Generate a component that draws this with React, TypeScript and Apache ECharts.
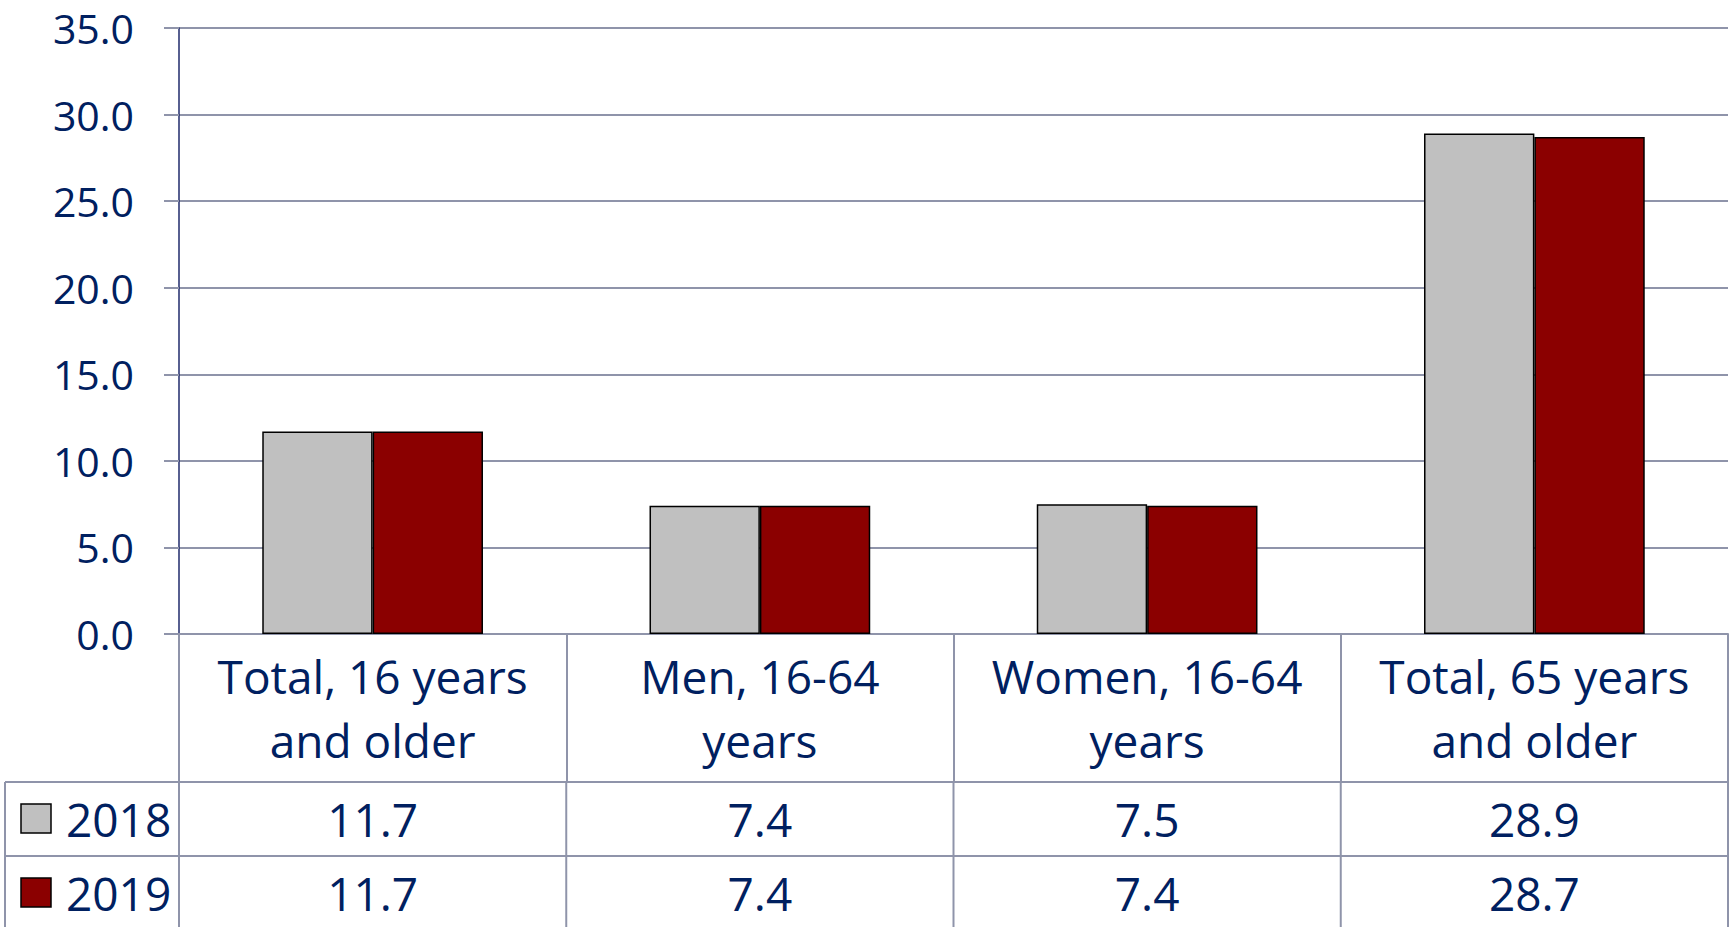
import React, { useEffect, useRef } from "react";
import * as echarts from "echarts";

const categories = [
  "Total, 16 years\nand older",
  "Men, 16-64\nyears",
  "Women, 16-64\nyears",
  "Total, 65 years\nand older",
];
const seriesNames = ["2018", "2019"];
const values2018 = [11.7, 7.4, 7.5, 28.9];
const values2019 = [11.7, 7.4, 7.4, 28.7];
const seriesColors = ["#C0C0C0", "#8B0000"];

const W = 1731;
const H = 927;
const FONT = "'Open Sans', 'Noto Sans', sans-serif";
const TEXT = "#002060";
const GRID = "#8f94aa";

export default function App() {
  const ref = useRef<HTMLDivElement>(null);
  useEffect(() => {
    if (!ref.current) return;
    const chart = echarts.init(ref.current, null, { renderer: "svg", width: W, height: H });
    const gridLeft = 179;
    const gridRight = 3;
    const gridTop = 28;
    const axisY = 634;
    const gridBottom = H - axisY;
    chart.setOption({
      animation: false,
      grid: { left: gridLeft, right: gridRight, top: gridTop, bottom: gridBottom, containLabel: false },
      xAxis: {
        type: "category",
        data: categories,
        axisLine: { show: true, lineStyle: { color: GRID, width: 2 } },
        axisTick: { show: true, alignWithLabel: false, length: 148, lineStyle: { color: GRID, width: 2 } },
        axisLabel: {
          interval: 0,
          margin: 10,
          color: TEXT,
          fontFamily: FONT,
          fontSize: 46,
          lineHeight: 64,
          align: "center",
          verticalAlign: "top",
        },
      },
      yAxis: {
        type: "value",
        min: 0,
        max: 35,
        interval: 5,
        axisLine: { show: true, lineStyle: { color: "#1f2a6b", width: 1.5 } },
        axisTick: { show: true, length: 15, lineStyle: { color: GRID, width: 2 } },
        splitLine: { show: true, lineStyle: { color: GRID, width: 2 } },
        axisLabel: {
          margin: 45,
          color: TEXT,
          fontFamily: FONT,
          fontSize: 41,
          lineHeight: 41,
          formatter: (v: number) => v.toFixed(1),
        },
      },
      series: [
        {
          name: seriesNames[0],
          type: "bar",
          data: values2018,
          barGap: "0%",
          barCategoryGap: "43%",
          itemStyle: { color: seriesColors[0], borderColor: "#000", borderWidth: 1.5 },
        },
        {
          name: seriesNames[1],
          type: "bar",
          data: values2019,
          barGap: "0%",
          barCategoryGap: "43%",
          itemStyle: { color: seriesColors[1], borderColor: "#000", borderWidth: 1.5 },
        },
      ],
    });

    // Data table beneath the axis
    const tableLeft = 5;
    const tableRight = W - gridRight;
    const row1Top = 782;
    const rowH = 74;
    const rows = [values2018, values2019];
    const colW = (tableRight - gridLeft) / categories.length;
    const lineStyle = { stroke: GRID, lineWidth: 2 };
    const elements: any[] = [];
    for (let r = 0; r <= rows.length; r++) {
      const y = row1Top + r * rowH;
      elements.push({ type: "line", shape: { x1: tableLeft, y1: y, x2: tableRight, y2: y }, style: lineStyle });
    }
    const bottom = row1Top + rows.length * rowH;
    elements.push({ type: "line", shape: { x1: tableLeft, y1: row1Top, x2: tableLeft, y2: bottom }, style: lineStyle });
    for (let c = 0; c <= categories.length; c++) {
      const x = gridLeft + c * colW;
      elements.push({ type: "line", shape: { x1: x, y1: row1Top, x2: x, y2: bottom }, style: lineStyle });
    }
    rows.forEach((vals, r) => {
      const cy = row1Top + r * rowH + rowH / 2;
      elements.push({
        type: "rect",
        shape: { x: 21, y: cy - 15, width: 30, height: 29 },
        style: { fill: seriesColors[r], stroke: "#000", lineWidth: 1.5 },
      });
      elements.push({
        type: "text",
        x: 66,
        y: cy,
        style: { text: seriesNames[r], fill: TEXT, font: `46px ${FONT}`, textAlign: "left", textVerticalAlign: "middle" },
      });
      vals.forEach((v, i) => {
        const px = chart.convertToPixel({ xAxisIndex: 0 }, i) as number;
        elements.push({
          type: "text",
          x: px,
          y: cy,
          style: { text: v.toFixed(1), fill: TEXT, font: `46px ${FONT}`, textAlign: "center", textVerticalAlign: "middle" },
        });
      });
    });
    chart.setOption({ graphic: { elements } });

    return () => chart.dispose();
  }, []);
  return (
    <div
      ref={ref}
      style={{ position: "fixed", left: 0, top: 0, width: W, height: H, background: "#fff" }}
    />
  );
}
